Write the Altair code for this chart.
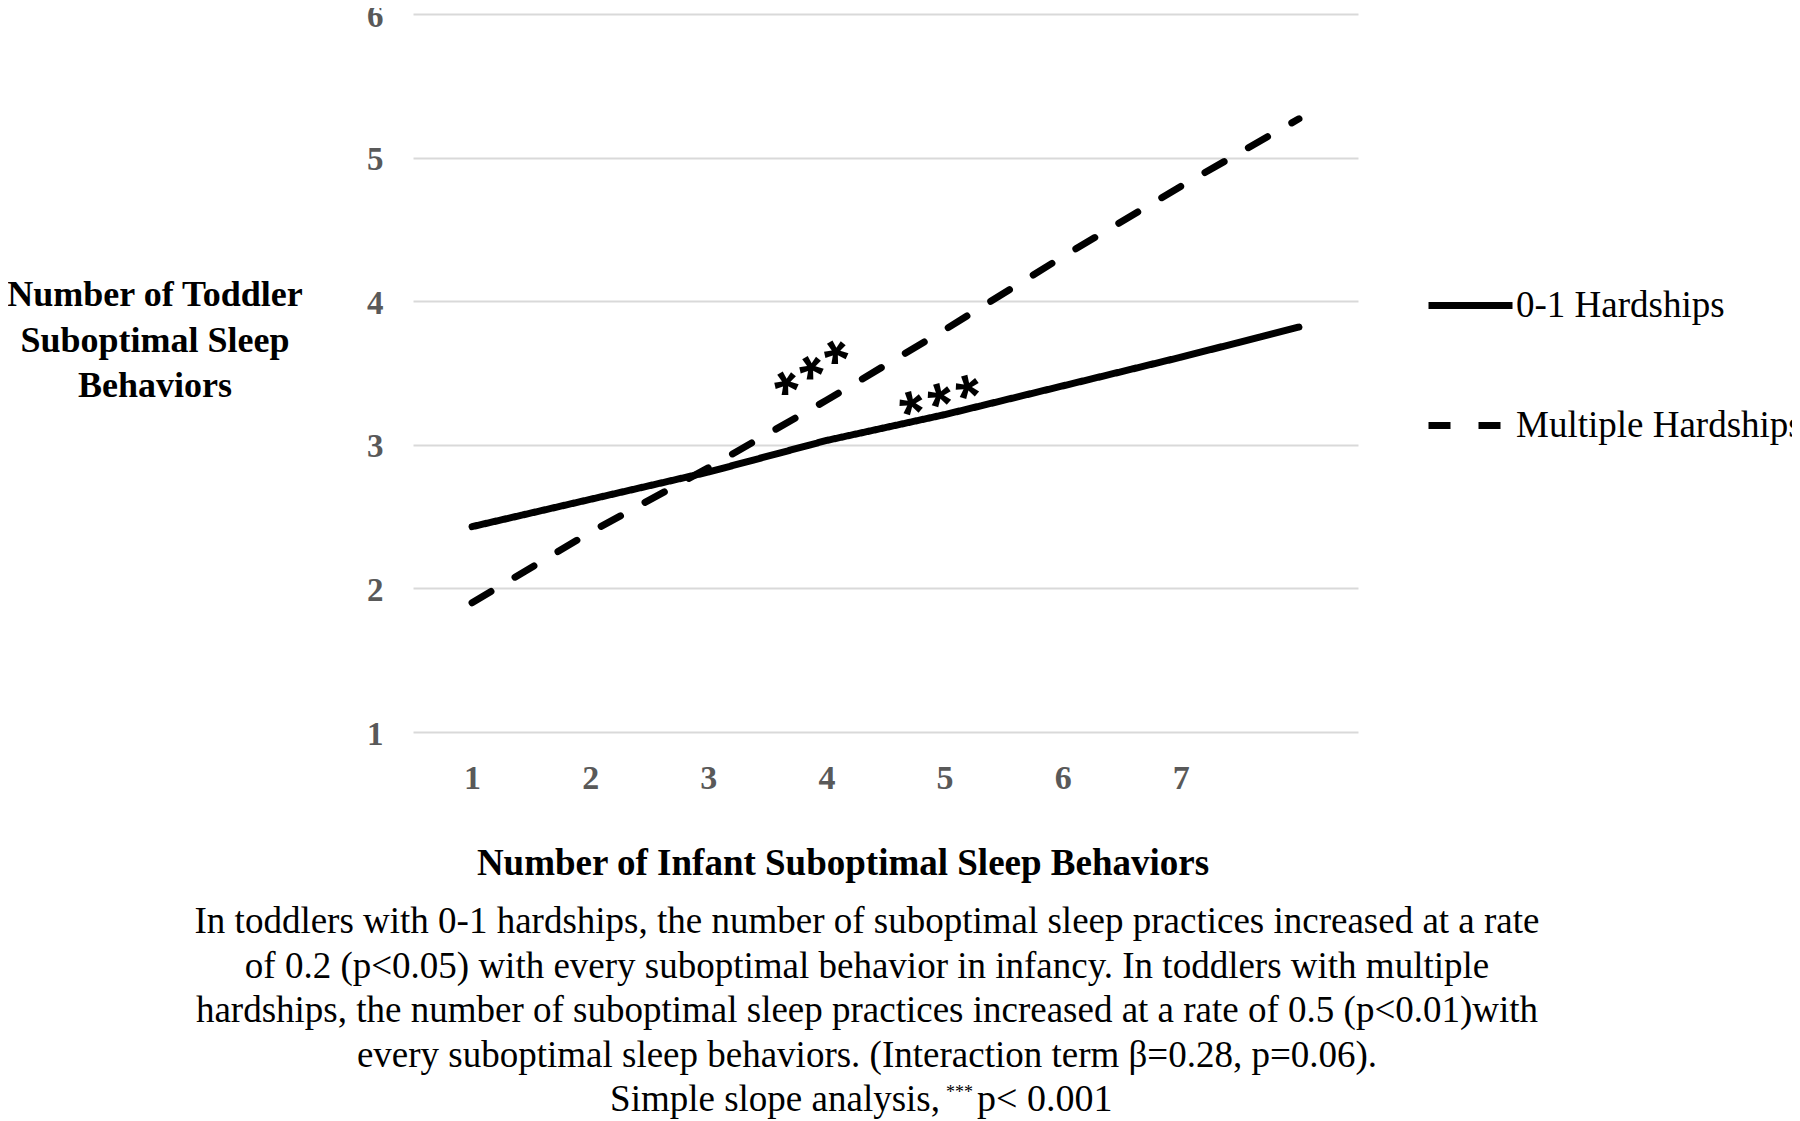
import altair as alt
import pandas as pd

# ---------------- data ----------------
infant_behaviors = [1, 2, 3, 4, 5, 6, 7, 8]
low_hardship_vals = [2.43, 2.62, 2.81, 3.03, 3.21, 3.41, 3.61, 3.82]
multi_hardship_vals = [1.90, 2.39, 2.84, 3.31, 3.80, 4.31, 4.80, 5.27]
series_names = ["0-1 Hardships", "Multiple Hardships"]
x_tick_values = [1, 2, 3, 4, 5, 6, 7]
y_tick_values = [1, 2, 3, 4, 5, 6]
y_title_lines = ["Number of Toddler", "Suboptimal Sleep", "Behaviors"]
x_title_text = "Number of Infant Suboptimal Sleep Behaviors"
caption_lines = [
    "In toddlers with 0-1 hardships, the number of suboptimal sleep practices increased at a rate",
    "of 0.2 (p<0.05) with every suboptimal behavior in infancy. In toddlers with multiple",
    "hardships, the number of suboptimal sleep practices increased at a rate of 0.5 (p<0.01)with",
    "every suboptimal sleep behaviors. (Interaction term \u03b2=0.28, p=0.06).",
]
caption_last = ["Simple slope analysis,", "***", "p< 0.001"]
sig_label = "*\u200a*\u200a*"
sig_x = [3.86, 4.95]
sig_y = [3.55, 3.36]

# ---------------- layout ----------------
W, H = 945, 718
SERIF = "Liberation Serif"

df = pd.DataFrame({
    "x": infant_behaviors * 2,
    "y": low_hardship_vals + multi_hardship_vals,
    "series": [series_names[0]] * len(infant_behaviors) + [series_names[1]] * len(infant_behaviors),
})

x_scale = alt.Scale(domain=[0.5, 8.5], nice=False, zero=False)
y_scale = alt.Scale(domain=[1, 6], nice=False, zero=False)

lines = alt.Chart(df).mark_line(strokeWidth=7, strokeCap="round", color="black").encode(
    x=alt.X("x:Q", scale=x_scale, axis=alt.Axis(
        values=x_tick_values, format="d", grid=False, domain=False, ticks=False, tickSize=0,
        labelFont=SERIF, labelFontSize=34, labelFontWeight="bold", labelColor="#595959",
        labelPadding=29, title=None)),
    y=alt.Y("y:Q", scale=y_scale, axis=alt.Axis(
        values=y_tick_values, format="d", grid=True, gridColor="#d9d9d9", gridWidth=2,
        domain=False, ticks=False, tickSize=0,
        labelFont=SERIF, labelFontSize=33, labelFontWeight="bold", labelColor="#595959",
        labelPadding=30, labelOffset=2, title=None)),
    strokeDash=alt.StrokeDash("series:N", scale=alt.Scale(domain=series_names, range=[[1, 0], [22, 28]]),
                              legend=alt.Legend(
                                  title=None, orient="none", legendX=1012, legendY=246,
                                  symbolType="stroke", symbolSize=7056, symbolStrokeWidth=7,
                                  symbolStrokeColor="black", labelFont=SERIF, labelFontSize=37,
                                  labelColor="black", labelOffset=0, rowPadding=56, padding=0,
                                  labelLimit=400)),
)

layers = [lines]

sig_df1 = pd.DataFrame({"x": [sig_x[0]], "y": [sig_y[0]], "t": [sig_label]})
sig_df2 = pd.DataFrame({"x": [sig_x[1]], "y": [sig_y[1]], "t": [sig_label]})
layers.append(alt.Chart(sig_df1).mark_text(font="Liberation Sans", fontSize=62, fontWeight="bold",
                                           angle=328, baseline="middle", align="center", dy=14).encode(
    x=alt.X("x:Q", scale=x_scale), y=alt.Y("y:Q", scale=y_scale), text="t:N"))
layers.append(alt.Chart(sig_df2).mark_text(font="Liberation Sans", fontSize=62, fontWeight="bold",
                                           angle=344, baseline="middle", align="center", dy=14).encode(
    x=alt.X("x:Q", scale=x_scale), y=alt.Y("y:Q", scale=y_scale), text="t:N"))

def text_layer(txt, x, y, size, weight="normal", align="center"):
    d = pd.DataFrame({"t": [txt]})
    return alt.Chart(d).mark_text(font=SERIF, fontSize=size, fontWeight=weight, align=align,
                                  baseline="alphabetic", color="black").encode(
        text="t:N", x=alt.value(x), y=alt.value(y))

for i, line in enumerate(y_title_lines):
    layers.append(text_layer(line, -258, 292 + 45.5 * i, 36, "bold"))

layers.append(text_layer(x_title_text, 430, 861, 37, "bold"))

for i, line in enumerate(caption_lines):
    layers.append(text_layer(line, 454, 919 + 44.7 * i, 37))

layers.append(text_layer(caption_last[0], 527, 1097, 37, align="right"))
layers.append(text_layer(caption_last[1], 533, 1084, 18, align="left"))
layers.append(text_layer(caption_last[2], 564, 1097, 38, align="left"))

chart = alt.layer(*layers).properties(
    width=W, height=H,
    background="white",
    autosize=alt.AutoSizeParams(type="none"),
    padding={"left": 405, "top": 6, "right": 434, "bottom": 389},
).configure_view(strokeWidth=0, stroke=None)

chart.save("out.html", embed_options={"renderer": "svg", "actions": False})
